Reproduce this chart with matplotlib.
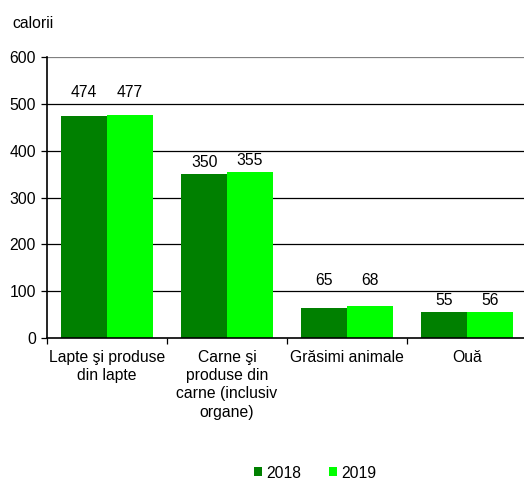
import matplotlib
matplotlib.use("Agg")
import matplotlib.pyplot as plt
import numpy as np

categories = ["Lapte şi produse\ndin lapte", "Carne şi\nproduse din\ncarne (inclusiv\norgane)",
              "Grăsimi animale", "Ouă"]
series_names = ["2018", "2019"]
values_2018 = [474, 350, 65, 55]
values_2019 = [477, 355, 68, 56]
colors = ["#008000", "#00FF00"]
y_ticks = [0, 100, 200, 300, 400, 500, 600]
y_label = "calorii"

FS = 11.3
plt.rcParams['font.family'] = ['Liberation Sans', 'DejaVu Sans']
plt.rcParams['font.size'] = FS

W, H = 524, 479
fig = plt.figure(figsize=(W / 100, H / 100), dpi=100)
ax = fig.add_axes([47 / W, 1 - 338 / H, 480 / W, (338 - 57) / H])

n = len(categories)
x = np.arange(n)
bw = 0.38
ax.bar(x - bw / 2, values_2018, bw, color=colors[0], label=series_names[0], zorder=3)
ax.bar(x + bw / 2, values_2019, bw, color=colors[1], label=series_names[1], zorder=3)

ax.set_xlim(-0.5, n - 0.5)
ax.set_ylim(0, 600)
ax.set_yticks(y_ticks)
ax.set_yticklabels([str(t) for t in y_ticks])
for t in y_ticks[1:]:
    ax.axhline(t, color="#808080" if t == 600 else "#000000", lw=0.9, zorder=1)

# value labels, nudged above gridlines when they would cross one
px_per_unit = (338 - 57) / 600
gap = 3 / px_per_unit
lab_h = 14 / px_per_unit
for vals, off in ((values_2018, -bw / 2), (values_2019, bw / 2)):
    for i, v in enumerate(vals):
        b = v + gap
        for t in y_ticks:
            if b < t < b + lab_h:
                b = t + 2.5 / px_per_unit
        ax.text(i + off, b + 1 / px_per_unit, str(v), ha="center", va="bottom", fontsize=FS,
                color="#000000", zorder=4)

ax.set_xticks(np.arange(n + 1) - 0.5)
ax.set_xticklabels([])
ax.tick_params(axis="x", direction="out", length=4, width=0.9, color="#000000")
ax.tick_params(axis="y", direction="out", length=4, width=0.9, color="#000000", pad=4, labelsize=FS)
for i, c in enumerate(categories):
    ax.text(i, -12 / px_per_unit, c, ha="center", va="top", fontsize=FS,
            linespacing=1.27, transform=ax.transData)

for s in ["top", "right"]:
    ax.spines[s].set_visible(False)
ax.spines["left"].set_color("#000000")
ax.spines["bottom"].set_color("#000000")
ax.spines["left"].set_linewidth(1.2)
ax.spines["bottom"].set_linewidth(1.2)
ax.spines["left"].set_zorder(5)
ax.spines["bottom"].set_zorder(5)

fig.text(12 / W, 1 - 23 / H, y_label, ha="left", va="center", fontsize=FS)

leg = fig.legend(loc="center", bbox_to_anchor=(315 / W, 1 - 473 / H), ncol=2, frameon=False,
                 handlelength=0.5, handleheight=0.5, handletextpad=0.25, columnspacing=1.8,
                 fontsize=FS)

fig.savefig("out.png", dpi=100)
